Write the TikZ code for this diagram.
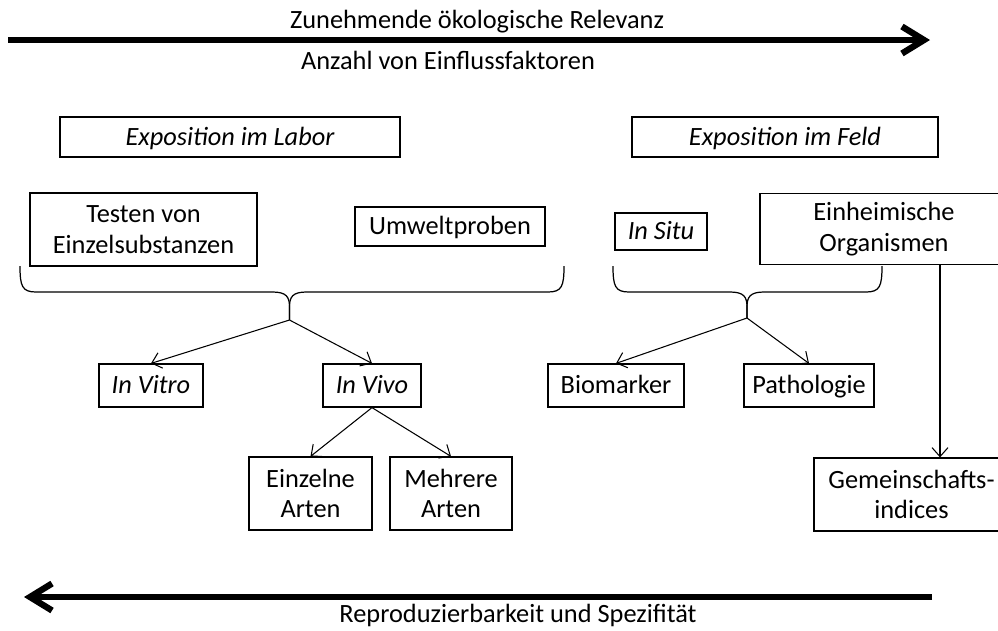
\documentclass[tikz,border=0pt]{standalone}
\usepackage{fontspec}
\setmainfont{Carlito}
\usetikzlibrary{arrows.meta}

\tikzset{
  kasten/.style={draw, line width=0.7pt, align=center, inner sep=0pt,
    font=\fontsize{15}{17.5}\selectfont},
  einzeilig/.style={text height=12pt, text depth=2.5pt},
  beschriftung/.style={inner sep=0pt, font=\fontsize{15}{17.5}\selectfont},
  pfeil/.style={line width=0.6pt, -{Straight Barb[length=1.8mm,width=3.2mm]}},
  achse/.style={line width=3.6pt, -{Straight Barb[length=4.4mm,width=5.4mm]}},
  klammer/.style={line width=0.7pt}
}

\begin{document}
\begin{tikzpicture}[x=0.02cm,y=-0.02cm]
      \useasboundingbox (0,0) rectangle (998,630);

      % Achsen oben und unten
      \coordinate (oben-start) at (8,40);
      \coordinate (oben-ende) at (930,40);
      \coordinate (unten-start) at (932,597);
      \coordinate (unten-ende) at (24,597);
      \draw[achse] (oben-start) -- (oben-ende);
      \draw[achse] (unten-start) -- (unten-ende);
      \node[beschriftung, einzeilig] (relevanz) at (477,20) {Zunehmende ökologische Relevanz};
      \node[beschriftung, einzeilig] (faktoren) at (448,61) {Anzahl von Einflussfaktoren};
      \node[beschriftung, einzeilig] (repro) at (518,614) {Reproduzierbarkeit und Spezifität};

      % Kaesten
      \node[kasten, einzeilig, minimum width=6.8cm, minimum height=0.8cm] (labor) at (230,137) {\itshape Exposition im Labor};
      \node[kasten, einzeilig, minimum width=6.12cm, minimum height=0.8cm] (feld) at (785,137) {\itshape Exposition im Feld};
      \node[kasten, minimum width=4.54cm, minimum height=1.46cm] (testen) at (143.5,229.5) {Testen von\\Einzelsubstanzen};
      \node[kasten, einzeilig, minimum width=3.8cm, minimum height=0.78cm] (umwelt) at (450,226.5) {Umweltproben};
      \node[kasten, einzeilig, minimum width=1.84cm, minimum height=0.74cm] (insitu) at (661,231.5) {\itshape In Situ};
      \node[kasten, minimum width=4.96cm, minimum height=1.42cm] (einheim) at (884,229) {Einheimische\\Organismen};
      \node[kasten, einzeilig, minimum width=2.08cm, minimum height=0.86cm] (vitro) at (151,385.5) {\itshape In Vitro};
      \node[kasten, einzeilig, minimum width=1.96cm, minimum height=0.86cm] (vivo) at (372,385.5) {\itshape In Vivo};
      \node[kasten, minimum width=2.46cm, minimum height=1.46cm] (einzeln) at (310.5,493.5) {Einzelne\\Arten};
      \node[kasten, minimum width=2.44cm, minimum height=1.46cm] (mehrere) at (451,493.5) {Mehrere\\Arten};
      \node[kasten, einzeilig, minimum width=2.72cm, minimum height=0.86cm] (biomarker) at (616,385.5) {Biomarker};
      \node[kasten, einzeilig, minimum width=2.6cm, minimum height=0.86cm] (patho) at (809,385.5) {Pathologie};
      \node[kasten, minimum width=3.9cm, minimum height=1.46cm] (gemein) at (911.5,494.5) {Gemeinschafts-\\indices};

      % Klammern
      \coordinate (laborspitze) at (289.5,320);
      \coordinate (feldspitze) at (747,318);
      \foreach \l/\m/\r/\s in {20/289.5/564/laborspitze, 613/747/882/feldspitze} {
        \draw[klammer] (\l,266) .. controls (\l,286) and ({\l+2},292) .. ({\l+16},292)
          -- ({\m-17},292) .. controls ({\m-3},292) and (\m,297) .. (\m,307) -- (\s);
        \draw[klammer] (\r,266) .. controls (\r,286) and ({\r-2},292) .. ({\r-16},292)
          -- ({\m+17},292) .. controls ({\m+3},292) and (\m,297) .. (\m,307) -- (\s);
      }

      % Pfeile
      \draw[pfeil] (laborspitze) -- (vitro.north);
      \draw[pfeil] (laborspitze) -- (vivo.north);
      \draw[pfeil] (vivo.south) -- (einzeln.north);
      \draw[pfeil] (vivo.south) -- (mehrere.north);
      \draw[pfeil] (feldspitze) -- (biomarker.north);
      \draw[pfeil] (feldspitze) -- (patho.north);
      \coordinate (ein-aus) at (940,264);
      \draw[pfeil] (ein-aus) -- (ein-aus |- gemein.north);
\end{tikzpicture}
\end{document}
